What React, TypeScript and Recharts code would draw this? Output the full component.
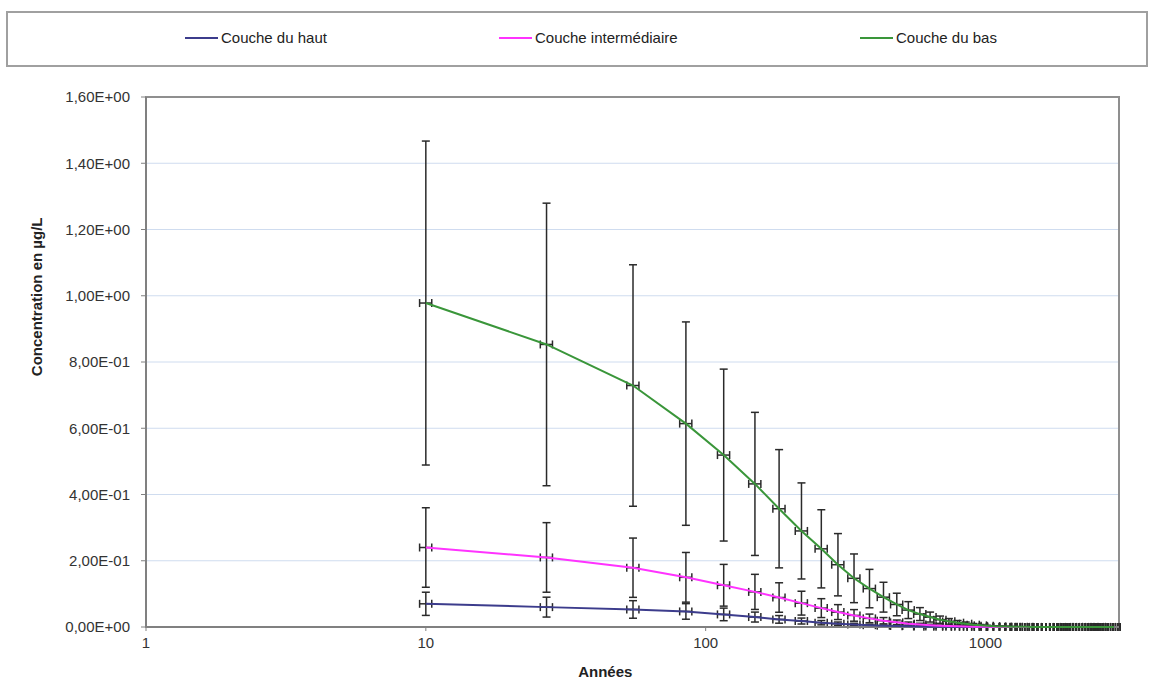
import React from "react";
import {
  ScatterChart,
  Scatter,
  XAxis,
  YAxis,
  CartesianGrid,
  ErrorBar,
  ReferenceArea,
} from "recharts";

// années (axe log)
const YEARS = [
  10, 27, 55, 85, 116, 150, 183, 220, 259, 297, 339, 385, 432, 482, 530, 583, 634, 688,
  740, 795, 850, 905, 960, 1015, 1070, 1125, 1180, 1235, 1290, 1345, 1400, 1455, 1510,
  1565, 1620, 1675, 1730, 1785, 1840, 1895, 1950, 2005, 2060, 2115, 2170, 2225, 2280,
  2335, 2390, 2445, 2500, 2555, 2610, 2665, 2720, 2775, 2830, 2885,
];

// concentrations en µg/L
const COUCHE_HAUT = [
  0.07, 0.06, 0.053, 0.047, 0.038, 0.03, 0.023, 0.018, 0.013, 0.01, 0.0075, 0.0055, 0.004,
  0.003, 0.002, 0.0015, 0.001, 0.0007, 0.0005, 0.0003, 0.0002, 0.0001, 0.0001, 0.0001,
  0.0001, 0.0001, 0.0001, 0.0001, 0.0001, 0.0001, 0.0001, 0.0001, 0.0001, 0.0001, 0.0001,
  0.0001, 0.0001, 0.0001, 0.0001, 0.0001, 0.0001, 0.0001, 0.0001, 0.0001, 0.0001, 0.0001,
  0.0001, 0.0001, 0.0001, 0.0001, 0.0001, 0.0001, 0.0001, 0.0001, 0.0001, 0.0001, 0.0001,
  0.0001,
];

const COUCHE_INTER = [
  0.24, 0.21, 0.179, 0.15, 0.126, 0.106, 0.089, 0.072, 0.057, 0.045, 0.035, 0.026, 0.019,
  0.014, 0.01, 0.0075, 0.0055, 0.004, 0.003, 0.002, 0.0015, 0.001, 0.0007, 0.0005, 0.0003,
  0.0002, 0.0001, 0.0001, 0.0001, 0.0001, 0.0001, 0.0001, 0.0001, 0.0001, 0.0001, 0.0001,
  0.0001, 0.0001, 0.0001, 0.0001, 0.0001, 0.0001, 0.0001, 0.0001, 0.0001, 0.0001, 0.0001,
  0.0001, 0.0001, 0.0001, 0.0001, 0.0001, 0.0001, 0.0001, 0.0001, 0.0001, 0.0001, 0.0001,
];

const COUCHE_BAS = [
  0.978, 0.853, 0.729, 0.614, 0.519, 0.432, 0.357, 0.29, 0.236, 0.188, 0.147, 0.116, 0.09,
  0.068, 0.051, 0.039, 0.03, 0.022, 0.017, 0.013, 0.01, 0.007, 0.005, 0.0035, 0.0025,
  0.0018, 0.0013, 0.001, 0.0007, 0.0005, 0.0004, 0.0003, 0.0002, 0.0002, 0.0001, 0.0001,
  0.0001, 0.0001, 0.0001, 0.0001, 0.0001, 0.0001, 0.0001, 0.0001, 0.0001, 0.0001, 0.0001,
  0.0001, 0.0001, 0.0001, 0.0001, 0.0001, 0.0001, 0.0001, 0.0001, 0.0001, 0.0001, 0.0001,
];

const Y_TICKS = [0, 0.2, 0.4, 0.6, 0.8, 1.0, 1.2, 1.4, 1.6];
const X_TICKS = [1, 10, 100, 1000];

// barres d'erreur en pourcentage (comme dans Excel)
const ERR_Y = 0.5;
const ERR_X = 0.05;

const SERIES = [
  { name: "Couche du haut", values: COUCHE_HAUT, color: "#3c3c8c" },
  { name: "Couche intermédiaire", values: COUCHE_INTER, color: "#ff33ff" },
  { name: "Couche du bas", values: COUCHE_BAS, color: "#3a963a" },
];

const FONT = "'Liberation Sans', Arial, sans-serif";

function toRows(values: number[]) {
  return YEARS.map((x, i) => ({
    x,
    y: values[i],
    ey: values[i] * ERR_Y,
    ex: x * ERR_X,
  }));
}

function fmtSci(v: number) {
  const [m, e] = v.toExponential(2).split("e");
  const n = Number(e);
  return `${m.replace(".", ",")}E${n < 0 ? "-" : "+"}${String(Math.abs(n)).padStart(2, "0")}`;
}

const YTitle = ({ viewBox }: any) => {
  const cx = viewBox.x + 37;
  const cy = viewBox.y + viewBox.height * 0.377;
  return (
    <text
      x={cx}
      y={cy}
      transform={`rotate(-90 ${cx} ${cy})`}
      textAnchor="middle"
      dominantBaseline="central"
      fontFamily={FONT}
      fontSize={15}
      fontWeight="bold"
      fill="#222"
    >
      Concentration en µg/L
    </text>
  );
};

const XTitle = ({ viewBox }: any) => (
  <text
    x={viewBox.x + viewBox.width * 0.472}
    y={viewBox.y + 50}
    textAnchor="middle"
    fontFamily={FONT}
    fontSize={15}
    fontWeight="bold"
    fill="#222"
  >
    Années
  </text>
);

const noDot = () => <g />;

function LegendBox() {
  const items = [
    { left: 183, s: SERIES[0] },
    { left: 497, s: SERIES[1] },
    { left: 858, s: SERIES[2] },
  ];
  return (
    <div
      style={{
        position: "absolute",
        left: 6,
        top: 11,
        width: 1142,
        height: 56,
        boxSizing: "border-box",
        border: "2px solid #a0a0a0",
        background: "#fff",
      }}
    >
      {items.map(({ left, s }) => (
        <div
          key={s.name}
          style={{
            position: "absolute",
            left: left - 6,
            top: 16,
            display: "flex",
            alignItems: "center",
            fontFamily: FONT,
            fontSize: 15,
            color: "#222",
            whiteSpace: "nowrap",
          }}
        >
          <span style={{ display: "inline-block", width: 33, height: 2, background: s.color, marginRight: 3 }} />
          {s.name}
        </div>
      ))}
    </div>
  );
}

export default function App() {
  return (
    <div style={{ position: "absolute", left: 0, top: 0, width: 1156, height: 682, background: "#fff" }}>
      <ScatterChart width={1156} height={682} margin={{ top: 97, right: 37, bottom: 5, left: 0 }}>
        <CartesianGrid vertical={false} stroke="#cfdcef" horizontalValues={Y_TICKS} />
        <ReferenceArea x1={1} x2={3000} y1={0} y2={1.6} fill="none" stroke="#8f8f8f" strokeWidth={2} />
        <XAxis
          type="number"
          dataKey="x"
          scale="log"
          domain={[1, 3000]}
          ticks={X_TICKS}
          allowDataOverflow
          height={50}
          axisLine={{ stroke: "#808080", strokeWidth: 2 }}
          tickLine={{ stroke: "#808080" }}
          tickSize={4}
          tickMargin={6}
          tick={{ fill: "#333", fontSize: 15, fontFamily: FONT }}
          label={(p: any) => <XTitle {...p} />}
        />
        <YAxis
          type="number"
          dataKey="y"
          domain={[0, 1.6]}
          ticks={Y_TICKS}
          width={146}
          axisLine={{ stroke: "#808080", strokeWidth: 2 }}
          tickLine={{ stroke: "#808080" }}
          tickSize={5}
          tickMargin={11}
          tickFormatter={fmtSci}
          tick={{ fill: "#333", fontSize: 15, fontFamily: FONT }}
          label={(p: any) => <YTitle {...p} />}
        />
        {SERIES.map((s) => (
          <Scatter
            key={s.name}
            name={s.name}
            data={toRows(s.values)}
            line={{ stroke: s.color, strokeWidth: 2 }}
            lineType="joint"
            shape={noDot}
            isAnimationActive={false}
          >
            <ErrorBar dataKey="ey" direction="y" width={4} stroke="#2a2a2a" strokeWidth={1.5} isAnimationActive={false} />
            <ErrorBar dataKey="ex" direction="x" width={4} stroke="#2a2a2a" strokeWidth={1.5} isAnimationActive={false} />
          </Scatter>
        ))}
      </ScatterChart>
      <LegendBox />
    </div>
  );
}
